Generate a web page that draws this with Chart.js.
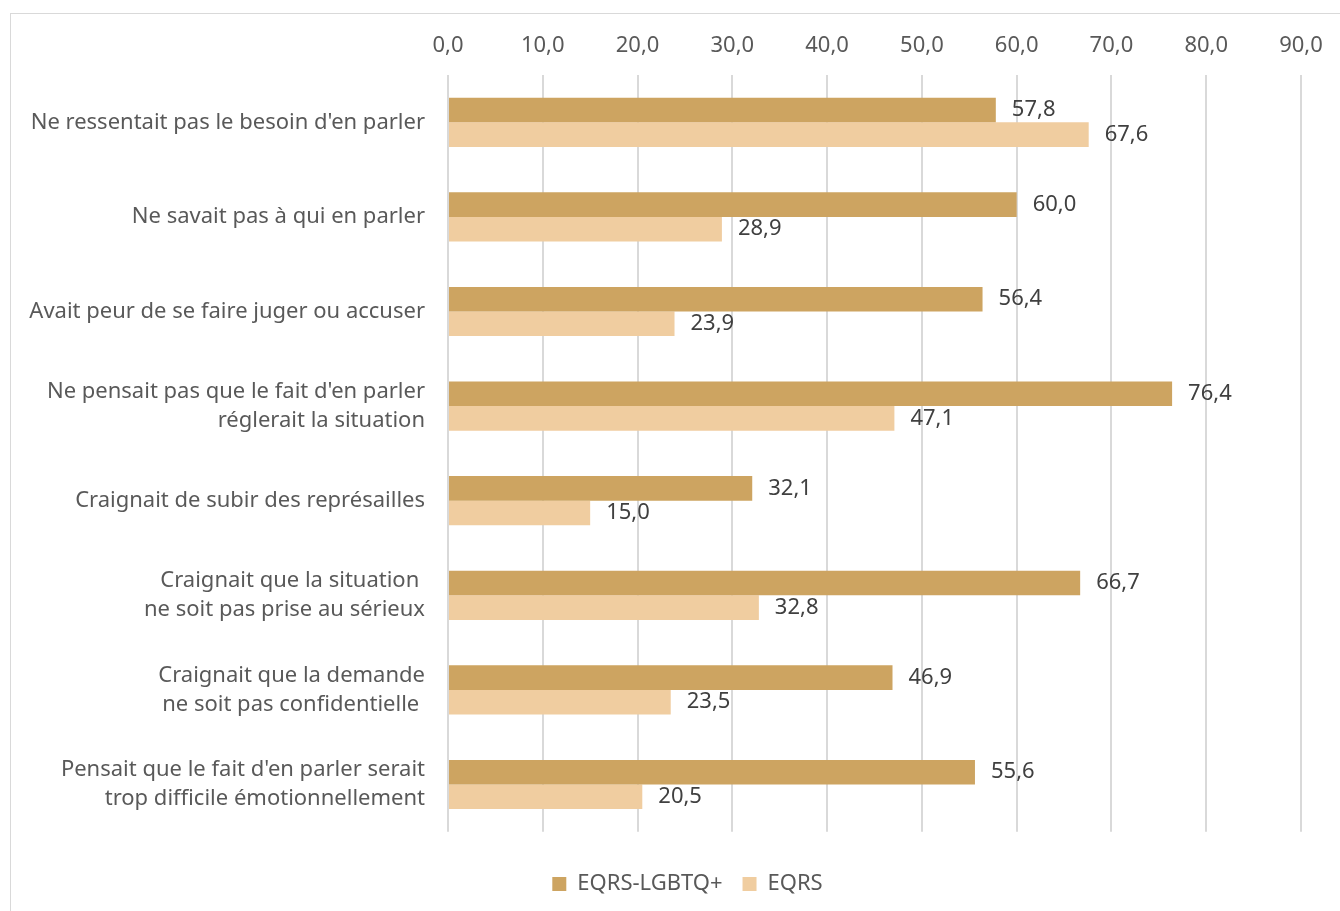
<!DOCTYPE html>
<html>
<head>
<meta charset="utf-8">
<script src="https://cdn.jsdelivr.net/npm/chart.js@4"></script>
<style>
  html, body { margin: 0; padding: 0; background: #fff; }
  #frame { position: absolute; left: 10px; top: 13px; width: 1400px; height: 1000px; border: 1px solid #d9d9d9; }
  #wrap { position: absolute; left: 0; top: 0; width: 1340px; height: 911px; }
</style>
</head>
<body>
<div id="frame"></div>
<div id="wrap"><canvas id="raisons"></canvas></div>
<script>
// categories (raisons de ne pas en parler)
var categories = [
  "Ne ressentait pas le besoin d'en parler",
  "Ne savait pas à qui en parler",
  "Avait peur de se faire juger ou accuser",
  ["Ne pensait pas que le fait d'en parler", "réglerait la situation"],
  "Craignait de subir des représailles",
  ["Craignait que la situation ", "ne soit pas prise au sérieux"],
  ["Craignait que la demande", "ne soit pas confidentielle "],
  ["Pensait que le fait d'en parler serait", "trop difficile émotionnellement"]
];
var lgbtqValues = [57.8, 60.0, 56.4, 76.4, 32.1, 66.7, 46.9, 55.6];
var eqrsValues = [67.6, 28.9, 23.9, 47.1, 15.0, 32.8, 23.5, 20.5];
var seriesNames = ['EQRS-LGBTQ+', 'EQRS'];

var textColor = '#595959';
var fontFam = "'Noto Sans', sans-serif";

function virgule(v){
  return v.toFixed(1).replace('.', ',');
}

// draw the value next to each bar
var valueLabels = {
  id: 'valueLabels',
  afterDatasetsDraw: function(chart){
    var ctx = chart.ctx;
    ctx.save();
    ctx.font = '22px ' + fontFam;
    ctx.fillStyle = '#404040';
    ctx.textAlign = 'left';
    ctx.textBaseline = 'middle';
    chart.data.datasets.forEach(function(ds, i){
      var meta = chart.getDatasetMeta(i);
      meta.data.forEach(function(bar, j){
        ctx.fillText(virgule(ds.data[j]), bar.x + 16, bar.y);
      });
    });
    ctx.restore();
  }
};

// legend sits a bit right of the canvas centre in the original
var legendShift = {
  id: 'legendShift',
  afterLayout: function(chart){
    if (chart.legend) {
      chart.legend.left += 37;
      chart.legend.right += 37;
    }
  }
};

var ctx_raisons = document.getElementById('raisons');
var raisons_chart = new Chart(ctx_raisons, {
  type: 'bar',
  data: {
    labels: categories,
    datasets: [
      { label: seriesNames[0], data: lgbtqValues, backgroundColor: '#CDA461', barPercentage: 1, categoryPercentage: 0.52 },
      { label: seriesNames[1], data: eqrsValues, backgroundColor: '#F0CDA0', barPercentage: 1, categoryPercentage: 0.52 }
    ]
  },
  options: {
    indexAxis: 'y',
    responsive: true,
    maintainAspectRatio: false,
    animation: false,
    layout: { padding: { top: 0, right: 39, bottom: 6, left: 0 } },
    scales: {
      x: {
        position: 'top',
        min: 0,
        max: 90,
        afterFit: function(scale){ scale.height = 75; },
        ticks: {
          stepSize: 10,
          padding: 16,
          color: textColor,
          font: { size: 22, family: fontFam },
          callback: function(v){ return virgule(v); }
        },
        grid: { color: '#d9d9d9', lineWidth: 2, drawTicks: false },
        border: { display: false }
      },
      y: {
        afterFit: function(scale){ scale.width = 448; },
        ticks: {
          padding: 15,
          color: textColor,
          font: { size: 22, family: fontFam, lineHeight: 1.32 }
        },
        grid: { display: false },
        border: { display: false }
      }
    },
    plugins: {
      // empty title used as a gap between the plot and the legend
      title: {
        display: true,
        text: ' ',
        position: 'bottom',
        weight: 500,
        font: { size: 1 },
        padding: { top: 20, bottom: 0 }
      },
      legend: {
        position: 'bottom',
        labels: {
          color: textColor,
          font: { size: 22, family: fontFam },
          boxWidth: 14,
          boxHeight: 14,
          padding: 20
        }
      },
      tooltip: { enabled: false }
    }
  },
  plugins: [valueLabels, legendShift]
});
</script>
</body>
</html>
